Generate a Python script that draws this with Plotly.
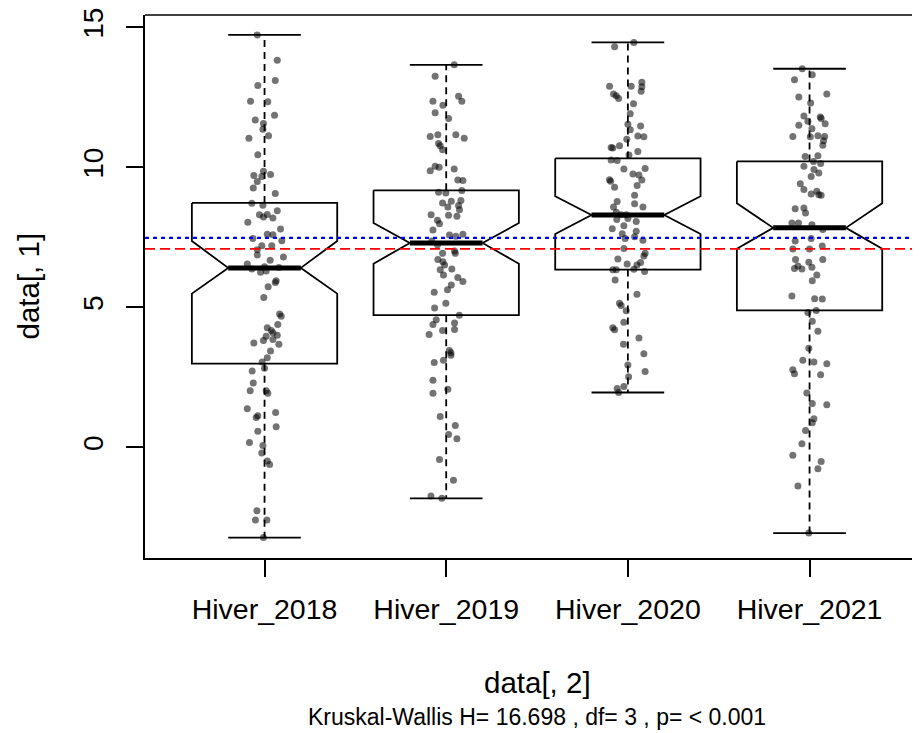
import plotly.graph_objects as go

# ---------------- data ----------------
categories = ["Hiver_2018", "Hiver_2019", "Hiver_2020", "Hiver_2021"]

# box statistics
q1 = [2.99, 4.72, 6.35, 4.89]
median = [6.41, 7.30, 8.30, 7.84]
q3 = [8.73, 9.18, 10.32, 10.21]
lower_fence = [-3.22, -1.82, 1.96, -3.06]
upper_fence = [14.73, 13.66, 14.46, 13.52]
notch_low = [5.49, 6.56, 7.62, 7.09]
notch_high = [7.37, 8.01, 8.97, 8.72]

# reference lines
blue_line = 7.48
red_line = 7.09

# jittered observations (value, horizontal jitter) per group
vals_2018 = [14.73, 13.82, 12.92, 13.10, 12.36, 12.34, 11.86, 11.69, 11.57, 11.36,
             11.13, 11.04, 10.45, 9.86, 9.71, 9.74, 9.67, 9.49, 9.26, 9.07,
             8.72, 8.65, 8.31, 8.32, 8.45, 8.23, 8.19, 8.04, 7.80, 7.61,
             7.59, 7.46, 7.38, 7.20, 7.20, 7.06, 6.87, 6.80, 6.68, 6.55,
             6.37, 6.45, 6.42, 6.25, 6.30, 5.95, 5.89, 5.74, 5.35, 4.76,
             4.68, 4.39, 4.27, 4.17, 4.09, 4.00, 3.97, 3.82, 3.85, 3.73,
             3.68, 3.44, 3.20, 3.05, 2.83, 2.73, 2.30, 2.02, 2.02, 1.93,
             1.38, 1.25, 1.13, 1.07, 0.74, 0.58, 0.17, 0.07, -0.20, -0.49,
             -0.61, -2.26, -2.59, -2.59, -3.22]
jit_2018 = [-0.040, 0.070, -0.037, 0.059, -0.077, 0.018, 0.055, -0.051, -0.006, -0.009,
            0.022, -0.086, -0.037, -0.006, -0.059, 0.033, -0.015, -0.040, -0.062, 0.059,
            -0.070, -0.009, -0.028, 0.015, 0.070, -0.006, 0.046, -0.092, 0.088, 0.015,
            0.046, -0.064, 0.095, -0.015, 0.040, -0.040, -0.040, 0.104, 0.031, -0.095,
            -0.070, 0.000, 0.079, -0.022, 0.009, 0.064, 0.059, 0.020, -0.004, 0.083,
            0.092, 0.073, 0.015, 0.037, 0.046, 0.070, 0.009, -0.006, 0.046, -0.059,
            0.079, 0.033, 0.015, -0.013, 0.000, -0.068, -0.062, -0.079, 0.009, 0.018,
            -0.095, 0.061, -0.037, -0.046, 0.064, -0.037, -0.083, -0.009, -0.015, 0.015,
            0.028, -0.042, -0.050, 0.013, -0.006]

vals_2019 = [13.66, 13.25, 12.54, 12.36, 12.36, 12.22, 11.95, 11.74, 11.10, 11.16,
             11.16, 11.04, 10.85, 10.77, 10.63, 10.04, 9.88, 10.00, 9.94, 9.55,
             9.53, 9.17, 9.11, 9.08, 8.79, 8.73, 8.82, 8.64, 8.58, 8.49,
             8.31, 8.29, 8.25, 8.11, 7.99, 7.76, 7.58, 7.61, 7.54, 7.37,
             7.24, 7.01, 6.93, 6.93, 6.71, 6.63, 6.51, 6.34, 6.37, 6.16,
             6.07, 5.92, 5.80, 5.63, 5.54, 4.98, 5.15, 4.72, 4.56, 4.39,
             4.44, 4.03, 4.17, 4.21, 3.46, 3.38, 3.29, 3.11, 3.03, 2.40,
             2.08, 1.93, 1.10, 0.78, 0.46, 0.31, -0.43, -1.17, -1.74, -1.82]
jit_2019 = [0.044, -0.061, 0.068, 0.086, -0.073, -0.018, -0.061, 0.013, -0.088, -0.046,
            0.053, 0.099, -0.042, -0.033, -0.020, -0.061, -0.088, -0.039, 0.044, 0.064,
            0.092, 0.086, -0.042, -0.002, 0.028, -0.020, 0.081, 0.068, 0.009, 0.073,
            -0.083, 0.013, 0.059, -0.048, -0.037, -0.073, 0.018, 0.092, 0.053, -0.079,
            -0.048, 0.046, -0.020, 0.050, -0.046, -0.018, -0.009, -0.033, 0.031, -0.015,
            0.064, 0.092, 0.028, 0.007, -0.066, -0.064, -0.002, 0.072, -0.055, -0.073,
            0.046, -0.094, -0.020, 0.046, 0.017, 0.026, 0.026, -0.015, -0.066, -0.073,
            0.009, -0.073, -0.033, 0.050, 0.013, 0.059, -0.037, 0.040, -0.084, -0.024]

vals_2020 = [14.46, 14.31, 12.90, 12.90, 13.04, 12.88, 12.72, 12.62, 12.56, 12.46,
             12.27, 11.91, 11.54, 11.48, 11.34, 11.12, 11.09, 11.00, 10.77, 10.71,
             10.69, 10.57, 10.44, 10.26, 10.24, 9.96, 9.94, 9.76, 9.73, 9.56,
             9.50, 9.55, 9.29, 9.35, 9.00, 8.78, 8.70, 8.58, 8.58, 8.40,
             8.31, 8.31, 8.17, 8.14, 8.07, 7.81, 7.91, 7.72, 7.63, 7.46,
             7.52, 7.40, 7.10, 6.93, 6.83, 6.73, 6.60, 6.55, 6.51, 6.34,
             6.34, 6.36, 6.28, 5.98, 5.47, 5.15, 5.07, 4.88, 4.47, 4.27,
             4.20, 3.91, 3.68, 3.34, 2.94, 2.71, 2.52, 2.17, 2.10, 1.96]
jit_2020 = [0.033, -0.073, -0.101, 0.018, 0.077, 0.077, 0.073, -0.079, -0.064, -0.051,
            0.031, 0.013, 0.000, 0.070, 0.013, 0.055, 0.088, -0.006, -0.046, -0.092,
            -0.083, 0.055, 0.006, -0.092, -0.059, 0.095, -0.022, 0.028, 0.061, -0.101,
            -0.095, 0.077, -0.073, 0.051, 0.037, -0.059, 0.037, -0.079, 0.083, -0.064,
            -0.037, -0.009, 0.000, -0.061, 0.046, -0.086, -0.022, 0.046, -0.031, -0.015,
            0.037, 0.083, -0.022, 0.095, 0.088, -0.055, 0.070, -0.004, 0.050, -0.083,
            -0.064, 0.033, 0.092, -0.070, 0.050, -0.046, -0.037, -0.009, -0.022, -0.083,
            -0.073, 0.061, -0.024, 0.088, 0.000, 0.095, 0.004, -0.022, -0.059, -0.051]

vals_2021 = [13.52, 13.31, 13.13, 12.62, 12.51, 12.30, 11.83, 11.80, 11.74, 11.65,
             11.56, 11.50, 11.38, 11.10, 11.09, 11.13, 11.10, 10.95, 10.79, 10.39,
             10.41, 10.21, 10.14, 10.04, 9.92, 9.80, 9.67, 9.41, 9.21, 9.15,
             9.05, 9.02, 9.00, 8.52, 8.55, 8.37, 8.01, 8.01, 7.95, 7.78,
             7.37, 7.46, 7.08, 7.08, 7.19, 6.71, 6.61, 6.48, 6.39, 6.37,
             6.71, 6.43, 6.16, 5.95, 5.41, 5.31, 5.30, 4.89, 4.82, 4.50,
             4.15, 3.54, 3.11, 3.05, 2.99, 2.77, 2.63, 2.59, 1.94, 1.57,
             1.52, 1.02, 0.88, 0.60, 0.13, -0.28, -0.50, -0.76, -1.38, -3.06]
jit_2021 = [-0.040, 0.015, -0.083, 0.095, -0.059, 0.006, -0.031, 0.059, 0.064, -0.009,
            0.086, -0.059, 0.013, -0.092, 0.004, 0.046, 0.083, 0.077, 0.073, -0.024,
            0.046, 0.022, 0.061, -0.031, 0.024, 0.051, 0.009, -0.051, -0.031, 0.040,
            0.009, 0.051, 0.064, -0.079, -0.031, -0.022, -0.097, -0.061, 0.013, 0.073,
            -0.079, 0.009, -0.092, 0.000, 0.070, -0.077, -0.004, -0.064, -0.083, -0.042,
            0.073, 0.013, 0.040, 0.015, -0.097, 0.028, 0.070, 0.037, -0.009, 0.015,
            0.046, -0.004, -0.037, 0.024, 0.095, -0.092, -0.083, 0.061, -0.015, 0.015,
            0.095, 0.024, 0.015, -0.022, -0.042, -0.092, 0.064, 0.046, -0.064, -0.004]

group_values = [vals_2018, vals_2019, vals_2020, vals_2021]
group_jitter = [jit_2018, jit_2019, jit_2020, jit_2021]

x_label = "data[, 2]"
y_label = "data[, 1]"
subtitle = "Kruskal-Wallis H= 16.698 , df= 3 , p= < 0.001"

# ---------------- style ----------------
FONT = "Liberation Sans, Arial, sans-serif"
HALF_W = 0.4      # box half width
NOTCH_W = 0.2     # notch inner half width
CAP_W = 0.2       # whisker cap half width
LW = 1.8

fig = go.Figure()

for i in range(len(categories)):
    xc = i + 1
    # notched box outline
    bx = [xc - HALF_W, xc + HALF_W, xc + HALF_W, xc + NOTCH_W, xc + HALF_W, xc + HALF_W,
          xc - HALF_W, xc - HALF_W, xc - NOTCH_W, xc - HALF_W, xc - HALF_W]
    by = [q3[i], q3[i], notch_high[i], median[i], notch_low[i], q1[i],
          q1[i], notch_low[i], median[i], notch_high[i], q3[i]]
    fig.add_trace(go.Scatter(x=bx, y=by, mode="lines",
                             line=dict(color="black", width=LW),
                             hoverinfo="skip", showlegend=False))
    # whiskers (dashed)
    fig.add_trace(go.Scatter(x=[xc, xc, None, xc, xc],
                             y=[q3[i], upper_fence[i], None, q1[i], lower_fence[i]],
                             mode="lines",
                             line=dict(color="black", width=LW, dash="7px,5px"),
                             hoverinfo="skip", showlegend=False))
    # staples
    fig.add_trace(go.Scatter(x=[xc - CAP_W, xc + CAP_W, None, xc - CAP_W, xc + CAP_W],
                             y=[upper_fence[i], upper_fence[i], None,
                                lower_fence[i], lower_fence[i]],
                             mode="lines", line=dict(color="black", width=LW),
                             hoverinfo="skip", showlegend=False))

# jittered points
for i in range(len(categories)):
    xs = [i + 1 + j for j in group_jitter[i]]
    fig.add_trace(go.Scatter(x=xs, y=group_values[i], mode="markers",
                             marker=dict(size=7, color="rgba(0,0,0,0.55)", line=dict(width=0)),
                             showlegend=False, hoverinfo="y"))

# medians (thick)
for i in range(len(categories)):
    xc = i + 1
    fig.add_trace(go.Scatter(x=[xc - NOTCH_W, xc + NOTCH_W], y=[median[i], median[i]],
                             mode="lines", line=dict(color="black", width=5),
                             hoverinfo="skip", showlegend=False))

shapes = [
    # top frame line
    dict(type="line", xref="paper", yref="paper", x0=0, x1=1, y0=1, y1=1,
         line=dict(color="black", width=1.5)),
    # reference lines
    dict(type="line", xref="paper", yref="y", x0=0, x1=1, y0=blue_line, y1=blue_line,
         line=dict(color="#0000ff", width=2.2, dash="4px,4px")),
    dict(type="line", xref="paper", yref="y", x0=0, x1=1, y0=red_line, y1=red_line,
         line=dict(color="#ff0000", width=1.8, dash="10px,5px")),
]

fig.update_layout(
    width=912, height=725,
    margin=dict(l=137, r=0, t=4, b=175),
    plot_bgcolor="white", paper_bgcolor="white",
    font=dict(family=FONT, color="black"),
    showlegend=False,
    xaxis=dict(range=[0.342, 4.608], tickvals=[1, 2, 3, 4], ticktext=categories,
               showgrid=False, zeroline=False, showline=True, linecolor="black",
               linewidth=1.5, ticks="outside", ticklen=17, tickwidth=1.5,
               tickcolor="black", tickfont=dict(size=28.5, family=FONT),
               ticklabelstandoff=8),
    yaxis=dict(range=[-3.95, 15.44], tickvals=[0, 5, 10, 15],
               showgrid=False, zeroline=False, showline=True, linecolor="black",
               linewidth=1.5, ticks="outside", ticklen=17, tickwidth=1.5,
               tickcolor="black", tickfont=dict(size=28, family=FONT),
               tickangle=-90, ticklabelstandoff=12, ticklabeloverflow="allow"),
    shapes=shapes,
    annotations=[
        dict(text=x_label, xref="paper", yref="paper", x=(537 - 145) / 775, y=(558 - 683) / 546,
             showarrow=False, font=dict(size=29.5, family=FONT), xanchor="center", yanchor="middle"),
        dict(text=subtitle, xref="paper", yref="paper", x=(537 - 145) / 775, y=(558 - 718) / 546,
             showarrow=False, font=dict(size=23, family=FONT), xanchor="center", yanchor="middle"),
        dict(text=y_label, xref="paper", yref="paper", x=(28 - 145) / 775, y=(558 - 285) / 546,
             showarrow=False, textangle=-90, font=dict(size=29.5, family=FONT),
             xanchor="center", yanchor="middle"),
    ],
)

fig.write_html("out.html")
